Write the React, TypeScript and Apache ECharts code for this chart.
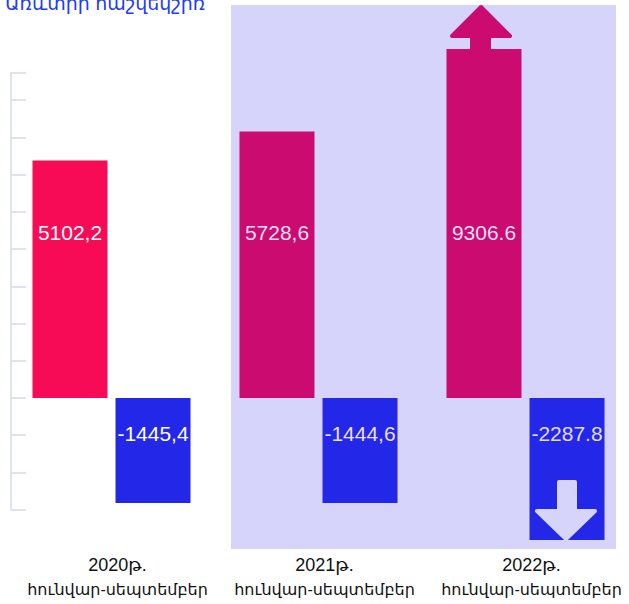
import React, { useEffect, useRef } from "react";
import * as echarts from "echarts";

const titleText = "Առևտրի հաշվեկշիռ";
const categories = ["2020թ.", "2021թ.", "2022թ."];
const periodLabel = "հունվար-սեպտեմբեր";
const positiveValues = [5102.2, 5728.6, 9306.6];
const negativeValues = [-1445.4, -1444.6, -2287.8];
const decimalSeparators = [",", ",", "."];
const positiveColors = ["#f70b57", "#cb0b6f", "#cb0b6f"];
const negativeColor = "#2327e8";
const labelColors = ["#ffffff", "#ecdff2", "#e2dcf6"];

const fmt = (v: number, i: number) => v.toFixed(1).replace(".", decimalSeparators[i]);

export default function App() {
  const ref = useRef<HTMLDivElement>(null);
  useEffect(() => {
    if (!ref.current) return;
    const chart = echarts.init(ref.current, undefined, { renderer: "svg" });
    const font = "'Liberation Sans', 'DejaVu Sans', Arial, sans-serif";
    chart.setOption({
      animation: false,
      backgroundColor: "#ffffff",
      textStyle: { fontFamily: font },
      grid: [
        { left: 8, right: 0, top: 49, height: 491 },
        { left: 11, width: 500, top: 73, height: 436.7 },
      ],
      xAxis: [
        {
          type: "category",
          gridIndex: 0,
          data: categories,
          axisLine: { show: false },
          axisTick: { show: false },
          axisLabel: {
            interval: 0,
            color: "#111111",
            margin: 13,
            padding: [0, 0, 0, 12],
            fontFamily: font,
            formatter: (v: string) => "{a|" + v + "}\n{b|" + periodLabel + "}",
            rich: {
              a: { fontSize: 18, lineHeight: 24, color: "#111111", fontFamily: font },
              b: { fontSize: 16, lineHeight: 24, color: "#111111", fontFamily: font },
            },
          },
        },
        { type: "value", gridIndex: 1, show: false },
      ],
      yAxis: [
        { type: "value", gridIndex: 0, min: -3051.6, max: 7500, show: false },
        { type: "value", gridIndex: 0, min: -1954, max: 4803, show: false },
        {
          type: "value",
          gridIndex: 1,
          min: -2400,
          max: 6985,
          interval: 800,
          axisLine: { show: true, lineStyle: { color: "#dfe3ee", width: 2 } },
          axisTick: { show: true, inside: true, length: 15, lineStyle: { color: "#dfe3ee", width: 2 } },
          axisLabel: { show: false },
          splitLine: { show: false },
        },
      ],
      graphic: [
        {
          type: "rect",
          z: 0,
          shape: { x: 231, y: 5, width: 385, height: 544 },
          style: { fill: "#d6d4fa" },
        },
        {
          type: "text",
          z: 10,
          left: 5,
          top: -6,
          style: { text: titleText, fill: "#1f3cf8", font: "19px " + font },
        },
        {
          type: "polygon",
          z: 10,
          shape: {
            points: [
              [452, 36],
              [481, 7],
              [510, 36],
              [489, 36],
              [489, 49],
              [472, 49],
              [472, 36],
            ],
          },
          style: { fill: "#cb0b6f", stroke: "#cb0b6f", lineWidth: 4, lineJoin: "round" },
        },
        {
          type: "polygon",
          z: 10,
          shape: {
            points: [
              [559, 482],
              [575, 482],
              [575, 511],
              [595, 511],
              [566, 539],
              [537, 511],
              [559, 511],
            ],
          },
          style: { fill: "#d6d4fa", stroke: "#d6d4fa", lineWidth: 4, lineJoin: "round" },
        },
      ],
      series: [
        {
          type: "bar",
          xAxisIndex: 0,
          yAxisIndex: 0,
          barWidth: 75,
          barGap: "10.7%",
          z: 3,
          data: positiveValues.map((v, i) => ({
            value: v,
            itemStyle: { color: positiveColors[i] },
            label: { color: labelColors[i] },
          })),
          label: {
            show: true,
            position: "insideBottom",
            distance: 155,
            fontSize: 21,
            fontFamily: font,
            formatter: (p: any) => fmt(p.value, p.dataIndex),
          },
        },
        {
          type: "bar",
          xAxisIndex: 0,
          yAxisIndex: 1,
          barWidth: 75,
          barGap: "10.7%",
          z: 3,
          data: negativeValues.map((v, i) => ({
            value: v,
            itemStyle: { color: negativeColor },
            label: { color: labelColors[i] },
          })),
          label: {
            show: true,
            position: "insideTop",
            distance: 25,
            fontSize: 21,
            fontFamily: font,
            formatter: (p: any) => fmt(p.value, p.dataIndex),
          },
        },
      ],
    });
    return () => chart.dispose();
  }, []);
  return <div ref={ref} style={{ width: 629, height: 604, position: "absolute", left: 0, top: 0 }} />;
}
